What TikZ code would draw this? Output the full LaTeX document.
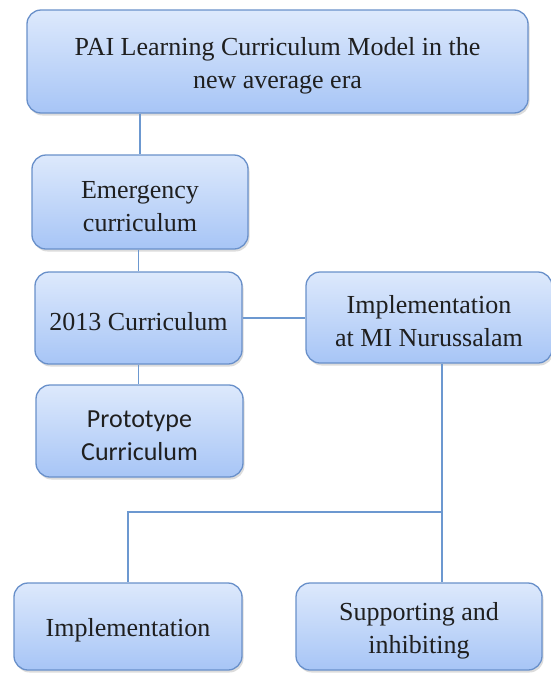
\documentclass[tikz,border=0pt]{standalone}
\usepackage{fontspec}
\setmainfont{Liberation Serif}
\newfontfamily\calibri{Carlito}
\usetikzlibrary{positioning, shadows}

\definecolor{boxtop}{HTML}{DDE9FC}
\definecolor{boxbot}{HTML}{A7C5F6}
\definecolor{boxline}{HTML}{6990CA}
\definecolor{linkline}{HTML}{6C98D0}

\begin{document}
\begin{tikzpicture}[
    x=1pt, y=1pt,
    cbox/.style={draw=boxline, line width=1.3pt, rounded corners=14pt,
        top color=boxtop, bottom color=boxbot, align=center, inner sep=0pt,
        font=\fontsize{26}{33}\selectfont, text=black!88, text height=26pt,
        drop shadow={shadow xshift=1.5pt, shadow yshift=-2.5pt, opacity=0.28}},
    twoline/.style={text height=59pt},
    link/.style={draw=linkline, line width=1.4pt}
  ]
  \useasboundingbox (0,0) rectangle (550,-675);

  \node[cbox, twoline, minimum width=501pt, minimum height=103pt] (model) at (277.5,-61.5)
    {PAI Learning Curriculum Model in the\\new average era};
  \node[cbox, twoline, minimum width=216pt, minimum height=94pt] (emerg) at (140,-202)
    {Emergency\\curriculum};
  \node[cbox, minimum width=207pt, minimum height=92pt] (c2013) at (138.5,-318)
    {2013 Curriculum};
  \node[cbox, twoline, minimum width=207pt, minimum height=92pt,
        font=\calibri\fontsize{26}{33}\selectfont] (proto) at (139.5,-431)
    {Prototype\\Curriculum};
  \node[cbox, twoline, minimum width=246pt, minimum height=91pt] (mi) at (429,-317.5)
    {Implementation\\at MI Nurussalam};
  \node[cbox, minimum width=228pt, minimum height=87pt] (impl) at (128,-626.5)
    {Implementation};
  \node[cbox, twoline, minimum width=246pt, minimum height=87pt] (supp) at (419,-626.5)
    {Supporting and\\inhibiting};

  % tree lines
  \coordinate (fork) at (442,-512);
  \draw[link] (emerg.north |- model.south) -- (emerg.north);
  \draw[link] (c2013.north |- emerg.south) -- (c2013.north);
  \draw[link] (c2013.south) -- (c2013.south |- proto.north);
  \draw[link] (c2013.east) -- (c2013.east -| mi.west);
  \draw[link] (fork |- mi.south) -- (fork |- supp.north);
  \draw[link] (fork) -| (impl.north);
\end{tikzpicture}
\end{document}
